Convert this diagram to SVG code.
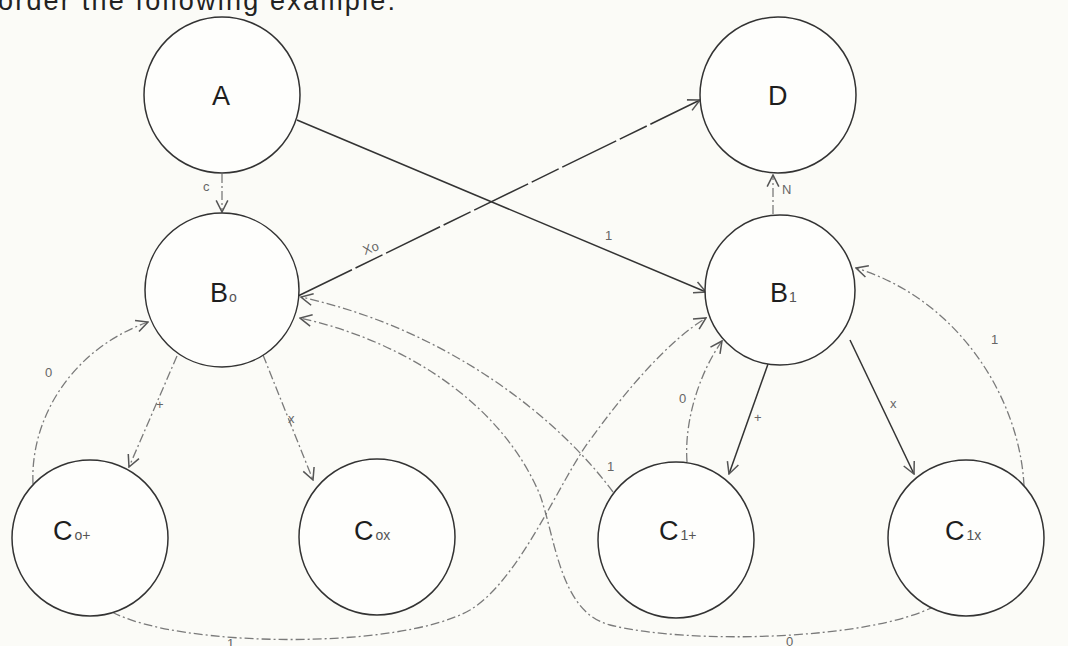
<svg xmlns="http://www.w3.org/2000/svg" width="1068" height="646" viewBox="0 0 1068 646">
<defs>
<marker id="ah" viewBox="0 0 12 12" refX="11" refY="6" markerWidth="14" markerHeight="14" markerUnits="userSpaceOnUse" orient="auto">
<path d="M1,1 L11,6 L1,11" fill="none" stroke="#555" stroke-width="1.3"/>
</marker>
</defs>
<style>
.node{fill:#fefefc;stroke:#333;stroke-width:1.5}
.nl{font-family:"Liberation Sans",Arial,sans-serif;font-size:27px;fill:#1e1e1e}
.sub{font-size:14px;fill:#555}
.e{fill:none;stroke:#7a7a7a;stroke-width:1.3;stroke-dasharray:9 3 2 3;marker-end:url(#ah)}
.s{fill:none;stroke:#333;stroke-width:1.5;marker-end:url(#ah)}
.el{font-family:"Liberation Sans",Arial,sans-serif;font-size:13px;fill:#666}
.top{font-family:"Liberation Sans",Arial,sans-serif;font-size:27px;fill:#222}
</style>
<rect width="1068" height="646" fill="#fbfbf7"/>
<text class="top" x="-2" y="10" textLength="397">order the following example:</text>

<g id="connectors">
<line class="e" x1="222" y1="174" x2="222" y2="212"/>
<line class="s" x1="297" y1="120" x2="706" y2="292"/>
<line class="s" x1="298" y1="296" x2="700" y2="100" stroke-dasharray="60 4 30 4"/>
<line class="e" x1="773" y1="214" x2="773" y2="175"/>
<line class="e" x1="177" y1="356" x2="129" y2="467"/>
<line class="e" x1="263" y1="355" x2="313" y2="480"/>
<path class="e" d="M33,484 C30,420 70,350 148,322"/>
<path class="s" d="M768,364 L729,474"/>
<path class="e" d="M687,462 C684,420 700,372 722,341"/>
<path class="s" d="M850,340 L914,474"/>
<path class="e" d="M1024,486 C1020,400 960,300 856,268"/>
<path class="e" d="M613,492 C560,420 450,330 301,297"/>
<path class="e" d="M935,606 C870,640 690,645 610,625 C560,612 556,540 540,495 C500,400 400,340 300,318"/>
<path class="e" d="M112,612 C180,648 400,650 470,610 C520,580 560,480 590,440 C630,385 670,340 706,318"/>
<text class="el" x="203" y="191">c</text>
<text class="el" x="605" y="240">1</text>
<text class="el" x="362" y="251" transform="rotate(-20 375 245)">Xo</text>
<text class="el" x="782" y="194">N</text>
<text class="el" x="156" y="409">+</text>
<text class="el" x="288" y="423">x</text>
<text class="el" x="45" y="377">0</text>
<text class="el" x="754" y="422">+</text>
<text class="el" x="679" y="403">0</text>
<text class="el" x="890" y="408">x</text>
<text class="el" x="991" y="344">1</text>
<text class="el" x="607" y="471">1</text>
<text class="el" x="227" y="648">1</text>
<text class="el" x="786" y="646">0</text>
</g>

<g id="A"><circle class="node" cx="222" cy="95" r="78"/><text class="nl" x="212" y="105">A</text></g>
<g id="D"><circle class="node" cx="778" cy="95" r="78"/><text class="nl" x="768" y="105">D</text></g>
<g id="B0"><circle class="node" cx="222" cy="290" r="77"/><text class="nl" x="210" y="302">B<tspan class="sub" dx="1">o</tspan></text></g>
<g id="B1"><circle class="node" cx="780" cy="290" r="75"/><text class="nl" x="770" y="302">B<tspan class="sub" dx="1">1</tspan></text></g>
<g id="C0p"><circle class="node" cx="90" cy="538" r="78"/><text class="nl" x="53" y="540">C<tspan class="sub" dx="2">o+</tspan></text></g>
<g id="C0x"><circle class="node" cx="377" cy="537" r="78"/><text class="nl" x="354" y="540">C<tspan class="sub" dx="2">ox</tspan></text></g>
<g id="C1p"><circle class="node" cx="676" cy="540" r="78"/><text class="nl" x="659" y="540">C<tspan class="sub" dx="2">1+</tspan></text></g>
<g id="C1x"><circle class="node" cx="966" cy="538" r="78"/><text class="nl" x="945" y="540">C<tspan class="sub" dx="2">1x</tspan></text></g>
</svg>
